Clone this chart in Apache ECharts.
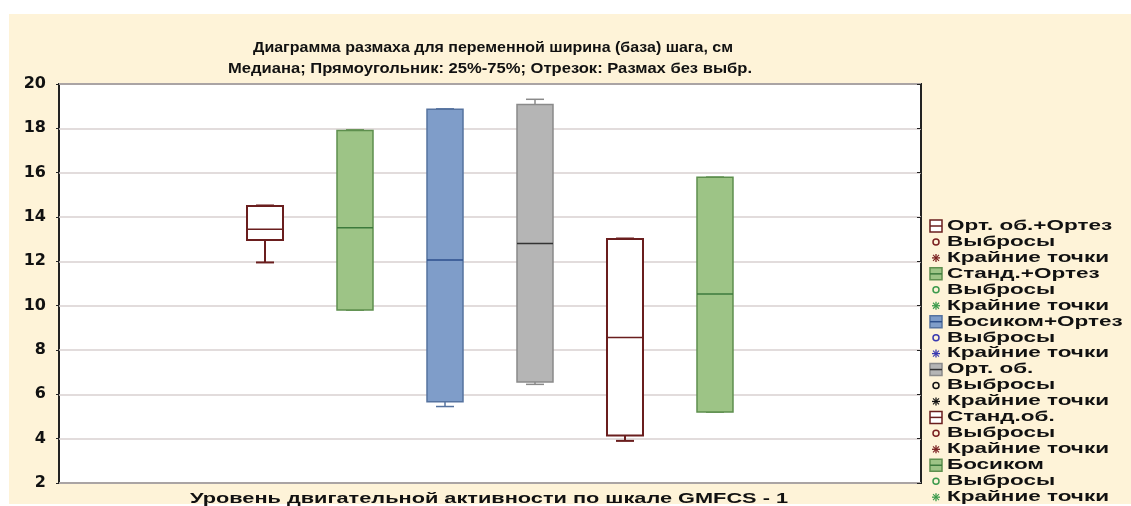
<!DOCTYPE html>
<html>
<head>
<meta charset="utf-8">
<script src="https://cdn.jsdelivr.net/npm/echarts@6/dist/echarts.min.js"></script>
<style>
  html, body { margin: 0; padding: 0; background: #fff; }
  #chart { width: 1131px; height: 506px; }
</style>
</head>
<body>
<div id="chart"></div>
<script>
// box groups, left to right
const groups = ['Орт. об.+Ортез', 'Станд.+Ортез', 'Босиком+Ортез', 'Орт. об.', 'Станд.об.', 'Босиком'];
const minVals = [11.95, 9.8, 5.45, 6.45, 3.9, 5.2];
const q1Vals = [12.96, 9.81, 5.67, 6.56, 4.14, 5.2];
const medVals = [13.45, 13.52, 12.06, 12.81, 8.56, 10.53];
const q3Vals = [14.5, 17.9, 18.86, 19.08, 13.01, 15.79];
const maxVals = [14.52, 17.93, 18.88, 19.31, 13.03, 15.8];
const yTicks = [2, 4, 6, 8, 10, 12, 14, 16, 18, 20];
const extraLabels = ['Выбросы', 'Крайние точки'];
const titleLines = [
  'Диаграмма размаха для переменной ширина (база) шага, см',
  'Медиана; Прямоугольник: 25%-75%; Отрезок: Размах без выбр.'
];
const xTitle = 'Уровень двигательной активности по шкале GMFCS - 1';

// styles
const fillColors = ['#ffffff', '#9dc486', '#7f9dc9', '#b5b5b5', '#ffffff', '#9dc486'];
const borderColors = ['#6a1e1e', '#5e8f4e', '#56739f', '#8a8a8a', '#6a1e1e', '#5e8f4e'];
const medianColors = ['#6a1e1e', '#3c7a3c', '#2d4f8c', '#333333', '#6a1e1e', '#3c7a3c'];
const markColors = ['#7a2020', '#3c9a4c', '#3a3ab0', '#111111', '#7a2020', '#3c9a4c'];
const FONT = '"Liberation Sans", Arial, sans-serif';

// the source picture is stretched sideways, so texts get a horizontal scale
const measureCtx = document.createElement('canvas').getContext('2d');
function fitScale(text, font, width) {
  measureCtx.font = font;
  return width / measureCtx.measureText(text).width;
}
function stretchedText(text, font, cx, cy, width, align) {
  const s = fitScale(text, font, width);
  return {
    type: 'text', x: cx, y: cy, scaleX: s, originX: 0, originY: 0,
    style: { text: text, font: font, fill: '#111', align: align || 'center', verticalAlign: 'middle' }
  };
}

const chart = echarts.init(document.getElementById('chart'));

const boxData = groups.map((g, i) => [i + 1, minVals[i], q1Vals[i], medVals[i], q3Vals[i], maxVals[i]]);

function renderItem(params, api) {
  const i = params.dataIndex;
  const x = api.value(0);
  const pMin = api.coord([x, api.value(1)]);
  const pQ1 = api.coord([x, api.value(2)]);
  const pMed = api.coord([x, api.value(3)]);
  const pQ3 = api.coord([x, api.value(4)]);
  const pMax = api.coord([x, api.value(5)]);
  const w = api.size([0.4, 0])[0];
  const cap = w * 0.5;
  const cx = pMed[0];
  const lw = fillColors[i] === '#ffffff' ? 2 : 1.5;
  const stroke = { stroke: borderColors[i], lineWidth: lw };
  return {
    type: 'group',
    children: [
      { type: 'line', shape: { x1: cx, y1: pQ3[1], x2: cx, y2: pMax[1] }, style: stroke },
      { type: 'line', shape: { x1: cx - cap / 2, y1: pMax[1], x2: cx + cap / 2, y2: pMax[1] }, style: stroke },
      { type: 'line', shape: { x1: cx, y1: pQ1[1], x2: cx, y2: pMin[1] }, style: stroke },
      { type: 'line', shape: { x1: cx - cap / 2, y1: pMin[1], x2: cx + cap / 2, y2: pMin[1] }, style: stroke },
      {
        type: 'rect',
        shape: { x: cx - w / 2, y: pQ3[1], width: w, height: pQ1[1] - pQ3[1] },
        style: { fill: fillColors[i], stroke: borderColors[i], lineWidth: lw }
      },
      {
        type: 'line',
        shape: { x1: cx - w / 2, y1: pMed[1], x2: cx + w / 2, y2: pMed[1] },
        style: { stroke: medianColors[i], lineWidth: 1.5 }
      }
    ]
  };
}

// legend drawn as graphic rows
const legendRows = [];
groups.forEach((g, i) => {
  legendRows.push({ label: g, kind: 'box', idx: i });
  legendRows.push({ label: extraLabels[0], kind: 'circle', idx: i });
  legendRows.push({ label: extraLabels[1], kind: 'star', idx: i });
});
const legendFont = 'bold 14px ' + FONT;
const legendScale = fitScale(extraLabels[1], legendFont, 162);
const legendX = 930, legendY0 = 226, legendStep = 15.95;
const legendEls = [];
legendRows.forEach((r, k) => {
  const y = legendY0 + k * legendStep;
  const c = markColors[r.idx];
  if (r.kind === 'box') {
    legendEls.push({ type: 'rect', shape: { x: legendX, y: y - 6, width: 12, height: 12 },
      style: { fill: fillColors[r.idx], stroke: borderColors[r.idx], lineWidth: 1.5 } });
    legendEls.push({ type: 'line', shape: { x1: legendX, y1: y, x2: legendX + 12, y2: y },
      style: { stroke: medianColors[r.idx], lineWidth: 1.5 } });
  } else if (r.kind === 'circle') {
    legendEls.push({ type: 'circle', shape: { cx: legendX + 6, cy: y, r: 3 },
      style: { fill: 'none', stroke: c, lineWidth: 1.5 } });
  } else {
    legendEls.push({ type: 'line', shape: { x1: legendX + 2, y1: y, x2: legendX + 10, y2: y }, style: { stroke: c, lineWidth: 1.3 } });
    legendEls.push({ type: 'line', shape: { x1: legendX + 6, y1: y - 4, x2: legendX + 6, y2: y + 4 }, style: { stroke: c, lineWidth: 1.3 } });
    legendEls.push({ type: 'line', shape: { x1: legendX + 3, y1: y - 3, x2: legendX + 9, y2: y + 3 }, style: { stroke: c, lineWidth: 1.1 } });
    legendEls.push({ type: 'line', shape: { x1: legendX + 9, y1: y - 3, x2: legendX + 3, y2: y + 3 }, style: { stroke: c, lineWidth: 1.1 } });
  }
  legendEls.push({ type: 'text', x: legendX + 17, y: y, scaleX: legendScale, originX: 0, originY: 0,
    style: { text: r.label, fill: '#111', font: legendFont, align: 'left', verticalAlign: 'middle' } });
});

const titleFont = 'bold 14px ' + FONT;

const option = {
  backgroundColor: '#ffffff',
  animation: false,
  grid: {
    left: 59, top: 84, right: 210, bottom: 23,
    outerBoundsMode: 'none',
    show: true, backgroundColor: '#ffffff', borderColor: '#222', borderWidth: 2
  },
  xAxis: {
    type: 'value',
    min: -1.289,
    max: 8.289,
    axisLine: { show: false },
    axisTick: { show: false },
    axisLabel: { show: false },
    splitLine: { show: false }
  },
  yAxis: [{
    type: 'value',
    min: yTicks[0],
    max: yTicks[yTicks.length - 1],
    interval: 2,
    axisLine: { show: false, onZero: false },
    axisTick: { show: true, inside: false, length: 3, lineStyle: { color: '#222' } },
    axisLabel: { fontFamily: '"DejaVu Sans", sans-serif', fontSize: 16, fontWeight: 'bold', color: '#111', margin: 13 },
    splitLine: { lineStyle: { color: '#d8d0d0', width: 1.5 } }
  }, {
    type: 'value',
    position: 'right',
    min: yTicks[0],
    max: yTicks[yTicks.length - 1],
    interval: 2,
    axisLine: { show: false, onZero: false },
    axisTick: { show: true, inside: true, length: 4, lineStyle: { color: '#222' } },
    axisLabel: { show: false },
    splitLine: { show: false }
  }],
  graphic: [
    { type: 'rect', z: -10, shape: { x: 9, y: 14, width: 1122, height: 490 }, style: { fill: '#fef3d8' } },
    stretchedText(titleLines[0], titleFont, 493, 48, 480),
    stretchedText(titleLines[1], titleFont, 490, 69, 524),
    stretchedText(xTitle, 'bold 15px ' + FONT, 489, 499, 598),
    { type: 'group', children: legendEls }
  ],
  series: [{
    type: 'custom',
    renderItem: renderItem,
    data: boxData,
    z: 5
  }]
};

chart.setOption(option);
window.addEventListener('resize', () => chart.resize());
</script>
</body>
</html>
